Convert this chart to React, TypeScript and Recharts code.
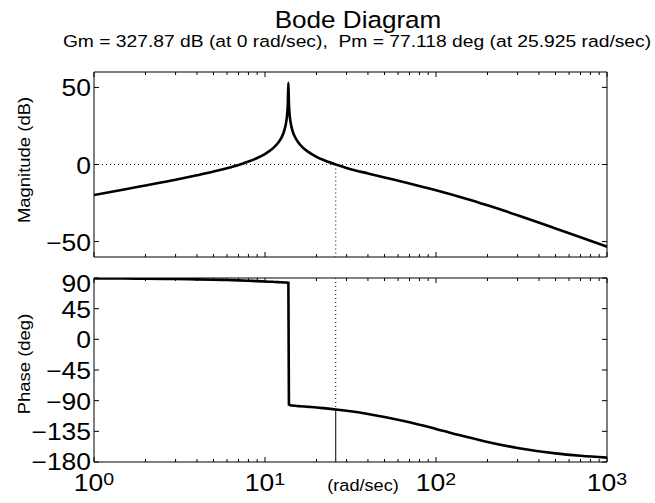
import React from 'react';
import { LineChart, Line, XAxis, YAxis, ReferenceLine } from 'recharts';

// frequency (rad/sec) and the two responses
const freq = [1, 1.5, 2, 3, 4, 5, 6, 7, 8, 9, 10, 11, 12, 12.5, 13, 13.3, 13.5, 13.6, 13.7, 13.8, 13.9, 14.1, 14.5, 15, 16, 18, 20, 22, 25.925, 30, 40, 50, 70, 100, 150, 200, 300, 500, 700, 1000];
const magDb = [-19.8, -16.2, -13.6, -9.9, -7.0, -4.6, -2.4, -0.3, 1.9, 4.2, 6.8, 10.0, 14.4, 17.6, 22.5, 27.5, 33.5, 39.6, 53.0, 39.6, 33.7, 27.7, 21.7, 17.7, 13.0, 8.0, 5.0, 2.9, 0, -2.2, -5.8, -8.4, -12.3, -16.7, -22.2, -26.5, -32.9, -41.5, -47.2, -53.3];
const phaseDeg = [89.5, 89.2, 89.0, 88.5, 88.0, 87.5, 87.0, 86.5, 86.0, 85.4, 84.9, 84.4, 83.9, 83.7, 83.4, 83.3, 83.2, 83.1, 83.0, -95.8, -96.2, -96.6, -97.1, -97.5, -98.1, -99.1, -100.0, -101.0, -102.9, -104.9, -109.5, -113.9, -121.8, -131.5, -143.0, -150.5, -159.4, -167.3, -170.8, -173.6];

const xTicks = [1, 2, 3, 4, 5, 6, 7, 8, 9, 10, 20, 30, 40, 50, 60, 70, 80, 90, 100, 200, 300, 400, 500, 600, 700, 800, 900, 1000];
const magTicks = [-50, 0, 50];
const phaseTicks = [-180, -135, -90, -45, 0, 45, 90];

// crossover frequency and phase at crossover (Pm = 77.118 deg)
const wc = 25.925;
const phaseAtWc = -102.88;

const rows = freq.map((w, i) => ({ w, mag: magDb[i], phase: phaseDeg[i] }));

const W = 655;
const H = 503;
const LEFT = 94;
const RIGHT = 607;
const MAG_TOP = 72;
const MAG_BOTTOM = 257;
const PH_TOP = 278;
const PH_BOTTOM = 462;
const FONT = '"Liberation Sans", Arial, Helvetica, sans-serif';

const isDecade = (v: number) => Math.abs(Math.log10(v) - Math.round(Math.log10(v))) < 1e-9;
const fmt = (v: number) => (v < 0 ? '\u2212' + Math.abs(v) : String(v));

function XTick({ payload, y0, dir, label }: any) {
  const x = payload.coordinate;
  const v = payload.value;
  const major = isDecade(v);
  const len = major ? 5 : 3;
  return (
    <g>
      <line x1={x} x2={x} y1={y0} y2={y0 + dir * len} stroke="#000" strokeWidth={1} />
      {label && major && (
        <g transform={`translate(${x},491) scale(1.15,1)`}>
          <text textAnchor="middle" fontSize={23} fontFamily={FONT} fill="#000">
            10<tspan dy={-6.5} fontSize={17}>{Math.round(Math.log10(v))}</tspan>
          </text>
        </g>
      )}
    </g>
  );
}

function YTick({ payload, x0, dir, label, topValue, bottomValue }: any) {
  const y = payload.coordinate;
  const v = payload.value;
  const shift = v === topValue ? 4.5 : v === bottomValue ? -1.5 : 0;
  return (
    <g>
      <line x1={x0} x2={x0 + dir * 5} y1={y} y2={y} stroke="#000" strokeWidth={1} />
      {label && (
        <g transform={`translate(${x0 - 3},${y + 9 + shift}) scale(1.15,1)`}>
          <text textAnchor="end" fontSize={23} fontFamily={FONT} fill="#000">{fmt(v)}</text>
        </g>
      )}
    </g>
  );
}

function Panel({ top, bottom, dataKey, domain, ticks, xLabels, topValue, bottomValue, children }: any) {
  return (
    <div style={{ position: 'absolute', left: 0, top: 0 }}>
      <LineChart
        width={W}
        height={H}
        data={rows}
        margin={{ top: top - 1, bottom: H - bottom - 1, left: LEFT - 1, right: W - RIGHT - 1 }}
      >
        <XAxis
          dataKey="w"
          type="number"
          scale="log"
          domain={[1, 1000]}
          allowDataOverflow
          ticks={xTicks}
          interval={0}
          height={1}
          tickLine={false}
          axisLine={{ stroke: '#000' }}
          tick={(p: any) => <XTick {...p} y0={bottom} dir={-1} label={xLabels} />}
        />
        <XAxis
          xAxisId="top"
          dataKey="w"
          orientation="top"
          type="number"
          scale="log"
          domain={[1, 1000]}
          allowDataOverflow
          ticks={xTicks}
          interval={0}
          height={1}
          tickLine={false}
          axisLine={{ stroke: '#000' }}
          tick={(p: any) => <XTick {...p} y0={top} dir={1} label={false} />}
        />
        <YAxis
          type="number"
          domain={domain}
          allowDataOverflow
          ticks={ticks}
          interval={0}
          width={1}
          tickLine={false}
          axisLine={{ stroke: '#000' }}
          tick={(p: any) => (
            <YTick {...p} x0={LEFT} dir={1} label topValue={topValue} bottomValue={bottomValue} />
          )}
        />
        <YAxis
          yAxisId="right"
          orientation="right"
          type="number"
          domain={domain}
          allowDataOverflow
          ticks={ticks}
          interval={0}
          width={1}
          tickLine={false}
          axisLine={{ stroke: '#000' }}
          tick={(p: any) => <YTick {...p} x0={RIGHT} dir={-1} label={false} />}
        />
        {children}
        <Line
          dataKey={dataKey}
          type="monotoneX"
          stroke="#000"
          strokeWidth={2.6}
          dot={false}
          isAnimationActive={false}
        />
        <Line
          dataKey={dataKey}
          xAxisId="top"
          yAxisId="right"
          stroke="none"
          dot={false}
          legendType="none"
          isAnimationActive={false}
        />
      </LineChart>
    </div>
  );
}

export default function App() {
  return (
    <div style={{ position: 'absolute', left: 0, top: 0, width: W, height: H, background: '#fff' }}>
      <Panel top={MAG_TOP} bottom={MAG_BOTTOM} dataKey="mag" domain={[-60, 60]} ticks={magTicks} xLabels={false}>
        <ReferenceLine y={0} stroke="#000" strokeWidth={1} strokeDasharray="1 3" />
        <ReferenceLine
          segment={[{ x: wc, y: 0 }, { x: wc, y: -60 }]}
          stroke="#000"
          strokeWidth={1}
          strokeDasharray="1 3"
        />
      </Panel>
      <Panel
        top={PH_TOP}
        bottom={PH_BOTTOM}
        dataKey="phase"
        domain={[-180, 90]}
        ticks={phaseTicks}
        xLabels
        topValue={90}
        bottomValue={-180}
      >
        <ReferenceLine
          segment={[{ x: wc, y: 90 }, { x: wc, y: phaseAtWc }]}
          stroke="#000"
          strokeWidth={1}
          strokeDasharray="1 3"
        />
        <ReferenceLine
          segment={[{ x: wc, y: phaseAtWc }, { x: wc, y: -180 }]}
          stroke="#000"
          strokeWidth={1}
        />
      </Panel>
      <svg width={W} height={H} style={{ position: 'absolute', left: 0, top: 0, pointerEvents: 'none' }}>
        <g transform="translate(358,27.7) scale(1.11,1)">
          <text textAnchor="middle" fontSize={23.5} fontFamily={FONT} fill="#000">Bode Diagram</text>
        </g>
        <g transform="translate(357,47) scale(1.12,1)">
          <text textAnchor="middle" fontSize={17.2} fontFamily={FONT} fill="#000" style={{ whiteSpace: 'pre' }}>
            {'Gm = 327.87 dB (at 0 rad/sec),  Pm = 77.118 deg (at 25.925 rad/sec)'}
          </text>
        </g>
        <g transform="translate(30,160) rotate(-90) scale(1.1,1)">
          <text textAnchor="middle" fontSize={16.8} fontFamily={FONT} fill="#000">Magnitude (dB)</text>
        </g>
        <g transform="translate(30,364) rotate(-90) scale(1.1,1)">
          <text textAnchor="middle" fontSize={16.8} fontFamily={FONT} fill="#000">Phase (deg)</text>
        </g>
        <g transform="translate(363,491) scale(1.1,1)">
          <text textAnchor="middle" fontSize={16.5} fontFamily={FONT} fill="#000">(rad/sec)</text>
        </g>
      </svg>
    </div>
  );
}
